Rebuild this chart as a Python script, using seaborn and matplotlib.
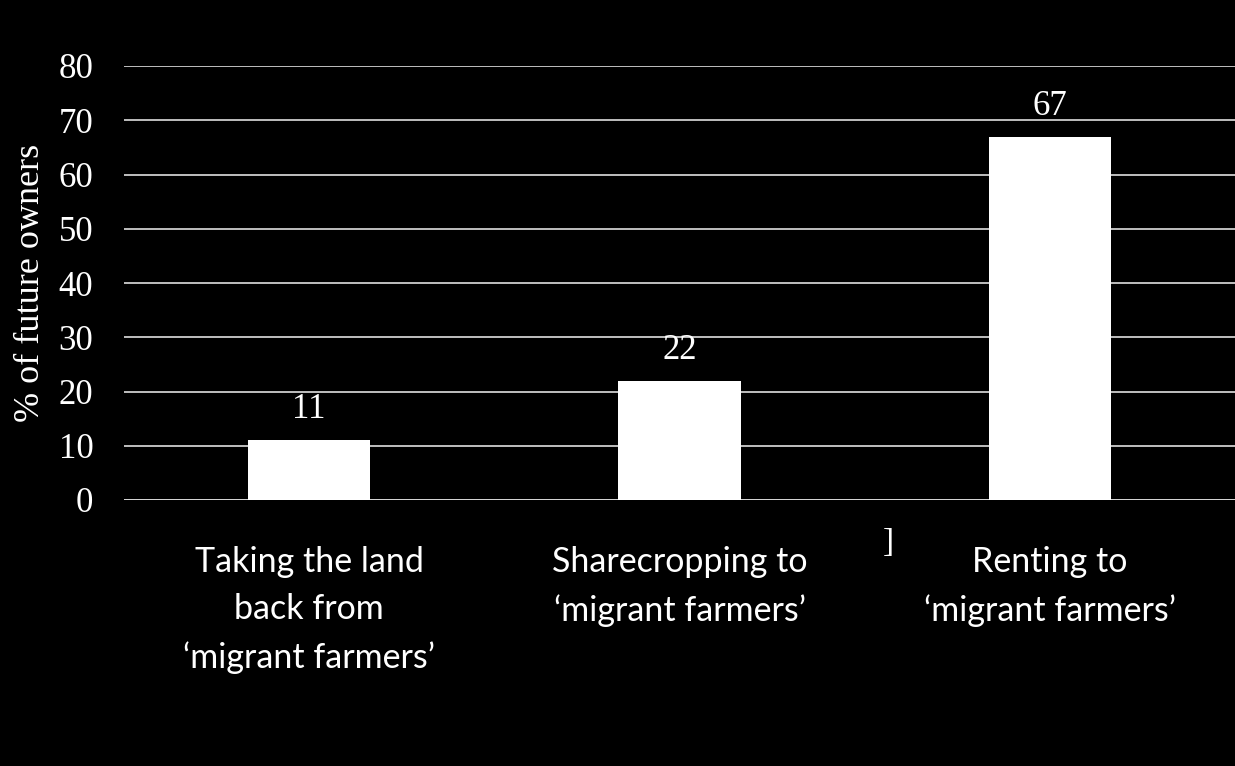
import matplotlib
matplotlib.use("Agg")
import matplotlib.pyplot as plt
import seaborn as sns
import pandas as pd

categories = ["Taking the land\nback from\n\u2018migrant farmers\u2019",
              "Sharecropping to\n\u2018migrant farmers\u2019",
              "Renting to\n\u2018migrant farmers\u2019"]
values = [11, 22, 67]
yticks = [0, 10, 20, 30, 40, 50, 60, 70, 80]
ylabel = "% of future owners"

df = pd.DataFrame({"cat": categories, "val": values})

sns.set_style("dark")
plt.rcParams["font.family"] = ["Liberation Serif", "DejaVu Serif"]
plt.rcParams["figure.facecolor"] = "black"
plt.rcParams["axes.facecolor"] = "black"

fig = plt.figure(figsize=(12.35, 7.66), dpi=100)
ax = fig.add_axes([124/1235, 1-500/766, 1-124/1235, (500-66)/766])
ax.set_facecolor("black")

sns.barplot(data=df, x="cat", y="val", color="white", width=0.33,
            saturation=1, ax=ax, zorder=3, edgecolor="none")

ax.set_ylim(0, 80)
ax.set_yticks(yticks)
ax.set_xlim(-0.5, 2.5)
for y in yticks:
    ax.axhline(y, color="#d9d9d9" if y == 0 else "#bfbfbf", lw=1.4, zorder=1)
ax.grid(False)
for s in ax.spines.values():
    s.set_visible(False)

ax.tick_params(axis="y", length=0, pad=22, labelsize=25, colors="white")
ax.tick_params(axis="x", length=0, pad=33, colors="white")
ax.set_xlabel("")
ax.set_ylabel(ylabel, fontsize=26, color="white", labelpad=8)
ax.set_xticks(range(len(categories)))
ax.set_xticklabels(categories, fontfamily="Lato", fontsize=24.5,
                   color="white", linespacing=1.6)

for c in ax.containers:
    ax.bar_label(c, labels=[str(v) for v in values], padding=10,
                 fontsize=25, color="white")

fig.text(888/1235, 1-543/766, "]", color="white", fontsize=24,
         ha="center", va="center")

fig.savefig("out.png", dpi=100, facecolor="black")
